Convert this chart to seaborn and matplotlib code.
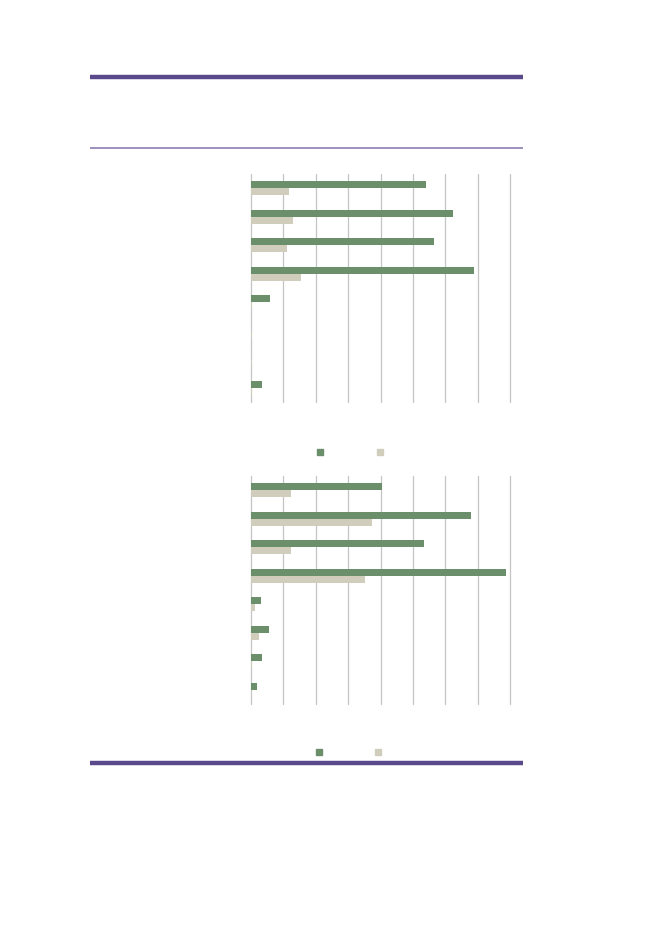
import matplotlib
matplotlib.use("Agg")
import matplotlib.pyplot as plt
import seaborn as sns
import pandas as pd
from matplotlib.lines import Line2D

sns.set_theme(style="white")
plt.rcParams['font.family'] = ['DejaVu Sans']

categories = ["C1", "C2", "C3", "C4", "C5", "C6", "C7", "C8"]
series_names = ["Series A", "Series B"]
top_a = [53.9, 62.2, 56.5, 68.8, 5.9, 0.0, 0.0, 3.5]
top_b = [11.7, 12.9, 11.2, 15.6, 0.5, 0.5, 0.5, 0.4]
bot_a = [40.5, 67.9, 53.5, 78.7, 3.2, 5.6, 3.5, 2.0]
bot_b = [12.3, 37.5, 12.3, 35.2, 1.3, 2.5, 0.5, 0.2]
x_ticks = [0, 10, 20, 30, 40, 50, 60, 70, 80]

GREEN = "#6b8e6b"
BEIGE = "#d0cdbd"
GRID = "#c4c4c4"
PURPLE = "#5a4a8c"
PURPLE_LIGHT = "#9488b8"

W, H = 661, 933
fig = plt.figure(figsize=(W / 100, H / 100), dpi=100)
fig.patch.set_facecolor("white")


def make_df(a, b):
    rows = []
    for c, va, vb in zip(categories, a, b):
        rows.append({"cat": c, "series": series_names[0], "val": va})
        rows.append({"cat": c, "series": series_names[1], "val": vb})
    return pd.DataFrame(rows)


def px_axes(x0, y0, x1, y1):
    return fig.add_axes([x0 / W, 1 - y1 / H, (x1 - x0) / W, (y1 - y0) / H])


def draw(ax, a, b):
    df = make_df(a, b)
    sns.barplot(data=df, y="cat", x="val", hue="series", orient="h",
                palette=[GREEN, BEIGE], width=0.5, ax=ax, legend=False,
                saturation=1, edgecolor="none", linewidth=0)
    ax.set_xlim(x_ticks[0], x_ticks[-1])
    ax.set_xticks(x_ticks)
    ax.set_ylim(len(categories) - 0.5, -0.5)
    ax.grid(axis="x", color=GRID, linewidth=0.9)
    for gl in ax.get_xgridlines():
        gl.set_clip_on(False)
    ax.set_axisbelow(True)
    for s in ax.spines.values():
        s.set_visible(False)
    ax.tick_params(left=False, bottom=False, labelleft=False, labelbottom=False)
    ax.set_xlabel("")
    ax.set_ylabel("")
    ax.set_facecolor("none")


ax1 = px_axes(250.7, 174, 510.3, 402)
draw(ax1, top_a, top_b)
ax2 = px_axes(250.7, 476, 510.3, 704)
draw(ax2, bot_a, bot_b)

# decorative rules
kw = dict(solid_capstyle="butt")
fig.add_artist(Line2D([90 / W, 523 / W], [1 - 76.5 / H] * 2, color=PURPLE, linewidth=3.2, **kw))
fig.add_artist(Line2D([90 / W, 523 / W], [1 - 148 / H] * 2, color=PURPLE_LIGHT, linewidth=1.3, **kw))
fig.add_artist(Line2D([90 / W, 523 / W], [1 - 763 / H] * 2, color=PURPLE, linewidth=3.2, **kw))

# legend markers (labels not visible in reference)
for ypix, xg, xb in [(452, 320, 379.7), (752, 319, 378.3)]:
    for xp, col in [(xg, GREEN), (xb, BEIGE)]:
        fig.add_artist(Line2D([xp / W], [1 - ypix / H], marker="s", markersize=3.8,
                              color=col, linestyle="none"))

fig.savefig("out.png", dpi=100, facecolor="white")
